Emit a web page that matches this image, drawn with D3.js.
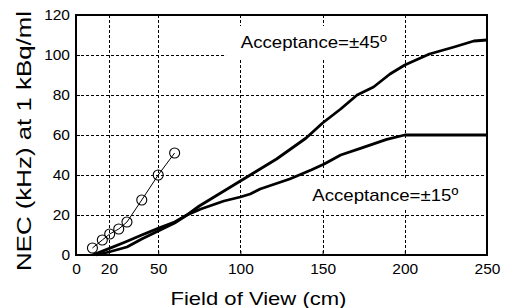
<!DOCTYPE html>
<html>
<head>
<meta charset="utf-8">
<script src="https://cdn.jsdelivr.net/npm/d3@7"></script>
<style>
body { margin: 0; background: #fff; }
text { font-family: Arial, "Liberation Sans", sans-serif; fill: #000; }
</style>
</head>
<body>
<svg id="chart" width="505" height="308"></svg>
<script>
// values
var fov45 = [10, 20, 30, 40, 50, 60, 67.5, 75, 85, 100, 106, 122, 140, 150, 161, 171, 181, 191, 200, 215, 230, 242, 250];
var nec45 = [0, 3.2, 6.5, 10, 13.3, 16.5, 20, 24.5, 29.5, 37, 40, 48, 58.5, 66, 73, 80, 84, 90.5, 95, 100.5, 104, 107, 107.5];

var fov15 = [12, 20, 31, 40, 50, 60, 67.5, 76, 90, 100, 106, 112, 130, 143, 151, 161, 173, 189, 200, 250];
var nec15 = [0, 1.5, 4, 8, 12, 16, 20, 23, 27, 29, 30.5, 33, 38, 42.5, 45.5, 50, 53.3, 57.8, 60, 60];

var fovCirc = [10, 16, 20.5, 26, 31, 40, 50, 60];
var necCirc = [3.5, 7.5, 10.5, 13, 16.5, 27.5, 40, 51];

var xTicks = [0, 20, 50, 100, 150, 200, 250];
var yTicks = [0, 20, 40, 60, 80, 100, 120];

var margin = {top: 15, right: 18, bottom: 53, left: 76};
var width = 505 - margin.left - margin.right;
var height = 308 - margin.top - margin.bottom;

var svg = d3.select('#chart');
var g = svg.append('g').attr('transform', 'translate(' + margin.left + ',' + margin.top + ')');

var x = d3.scaleLinear().domain([0, 250]).range([0, width]);
var y = d3.scaleLinear().domain([0, 120]).range([height, 0]);

var zip = function (xs, ys) {
	return xs.map(function (v, i) { return [v, ys[i]]; });
};

// dashed grid
g.selectAll('line.vgrid')
		.data(xTicks.filter(function (d) { return d > 0 && d < 250; }))
	.enter()
		.append('line')
		.attr('x1', function (d) { return Math.round(x(d)) + 0.5; })
		.attr('x2', function (d) { return Math.round(x(d)) + 0.5; })
		.attr('y1', 0)
		.attr('y2', height)
		.attr('stroke', '#000')
		.attr('stroke-width', 1)
		.attr('stroke-dasharray', '3,2');
g.selectAll('line.hgrid')
		.data(yTicks.filter(function (d) { return d > 0 && d < 120; }))
	.enter()
		.append('line')
		.attr('x1', 0)
		.attr('x2', width)
		.attr('y1', function (d) { return Math.round(y(d)) + 0.5; })
		.attr('y2', function (d) { return Math.round(y(d)) + 0.5; })
		.attr('stroke', '#000')
		.attr('stroke-width', 1)
		.attr('stroke-dasharray', '3,2');

// label boxes hide the grid behind the text
var labels = [
	{text: 'Acceptance=\u00b145\u00ba', fx: 100.2, fy: 103.6, bx: 91.3, by: 114.5, bw: 107, bh: 16},
	{text: 'Acceptance=\u00b115\u00ba', fx: 143.7, fy: 27.1, bx: 141.3, by: 38.5, bw: 101.7, bh: 16}
];
g.selectAll('rect.lbl')
		.data(labels)
	.enter()
		.append('rect')
		.attr('x', function (d) { return x(d.bx); })
		.attr('y', function (d) { return y(d.by); })
		.attr('width', function (d) { return x(d.bw) - x(0); })
		.attr('height', function (d) { return y(0) - y(d.bh); })
		.attr('fill', '#fff');

var line = d3.line()
	.x(function (d) { return x(d[0]); })
	.y(function (d) { return y(d[1]); });

g.append('path')
	.datum(zip(fov45, nec45))
	.attr('d', line)
	.attr('fill', 'none')
	.attr('stroke', '#000')
	.attr('stroke-width', 2.8)
	.attr('stroke-linejoin', 'round');
g.append('path')
	.datum(zip(fov15, nec15))
	.attr('d', line)
	.attr('fill', 'none')
	.attr('stroke', '#000')
	.attr('stroke-width', 2.8)
	.attr('stroke-linejoin', 'round');

var circ = zip(fovCirc, necCirc);
g.append('path')
	.datum(circ)
	.attr('d', line)
	.attr('fill', 'none')
	.attr('stroke', '#000')
	.attr('stroke-width', 1);
g.selectAll('circle')
		.data(circ)
	.enter()
		.append('circle')
		.attr('cx', function (d) { return x(d[0]); })
		.attr('cy', function (d) { return y(d[1]); })
		.attr('r', 5)
		.attr('fill', 'none')
		.attr('stroke', '#000')
		.attr('stroke-width', 1.1);

g.selectAll('text.lbl')
		.data(labels)
	.enter()
		.append('text')
		.attr('x', function (d) { return x(d.fx); })
		.attr('y', function (d) { return y(d.fy); })
		.attr('font-size', 17)
		.attr('textLength', 146)
		.attr('lengthAdjust', 'spacingAndGlyphs')
		.text(function (d) { return d.text; });

// axes
var xAxis = d3.axisBottom(x).tickValues(xTicks).tickSize(-4).tickPadding(8).tickFormat(d3.format('d'));
var yAxis = d3.axisLeft(y).tickValues(yTicks).tickSize(-4).tickPadding(6).tickFormat(d3.format('d'));

var xg = g.append('g').attr('transform', 'translate(0,' + height + ')').call(xAxis);
var yg = g.append('g').call(yAxis);
[xg, yg].forEach(function (a) {
	a.select('.domain').remove();
	a.selectAll('line').attr('stroke', '#000');
	a.selectAll('text')
		.attr('font-size', 15.5)
		.attr('font-family', 'Arial, "Liberation Sans", sans-serif')
		.attr('fill', '#000');
});

// frame
g.append('rect')
	.attr('x', 0)
	.attr('y', 0)
	.attr('width', width)
	.attr('height', height)
	.attr('fill', 'none')
	.attr('stroke', '#000')
	.attr('stroke-width', 2);

svg.append('text')
	.attr('x', margin.left + x(111))
	.attr('y', 305)
	.attr('text-anchor', 'middle')
	.attr('font-size', 19)
	.attr('textLength', 176)
	.attr('lengthAdjust', 'spacingAndGlyphs')
	.text('Field of View (cm)');

svg.append('text')
	.attr('transform', 'translate(31,' + (margin.top + y(57)) + ') rotate(-90)')
	.attr('text-anchor', 'middle')
	.attr('font-size', 21)
	.attr('textLength', 260)
	.attr('lengthAdjust', 'spacingAndGlyphs')
	.text('NEC (kHz) at 1 kBq/ml');
</script>
</body>
</html>
